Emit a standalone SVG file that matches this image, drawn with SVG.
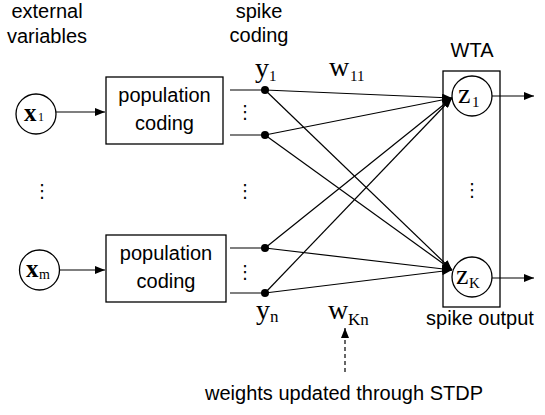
<svg xmlns="http://www.w3.org/2000/svg" width="545" height="415" viewBox="0 0 545 415">
<defs>
<style>
.s{font-family:"Liberation Sans",Arial,sans-serif;font-size:20px;fill:#000}
.m{font-family:"Liberation Serif","Times New Roman",serif;font-size:28px;fill:#000}
.sub{font-family:"Liberation Serif","Times New Roman",serif;font-size:15px;fill:#000}
.d{font-family:"DejaVu Sans",sans-serif;font-size:18px;fill:#000;text-anchor:middle}
.ln{stroke:#000;stroke-width:1.2;fill:none}
.bx{stroke:#000;stroke-width:1.3;fill:#fff}
</style>
<marker id="ah" viewBox="0 0 10 8" refX="10" refY="4" markerWidth="10" markerHeight="8" markerUnits="userSpaceOnUse" orient="auto">
<path d="M0,0 L10,4 L0,8 z" fill="#000"/>
</marker>
</defs>
<rect width="545" height="415" fill="#fff"/>

<g id="labels">
<text class="s" x="47" y="18" text-anchor="middle">external</text>
<text class="s" x="47" y="43" text-anchor="middle">variables</text>
<text class="s" x="259" y="18" text-anchor="middle">spike</text>
<text class="s" x="259" y="42" text-anchor="middle">coding</text>
<text class="s" x="472" y="57" text-anchor="middle">WTA</text>
<text class="s" x="480" y="325" text-anchor="middle">spike output</text>
<text class="s" x="344" y="400" text-anchor="middle">weights updated through STDP</text>
<text class="m" x="255" y="77">y</text><text class="sub" x="269" y="81">1</text>
<text class="m" x="256" y="319">y</text><text class="sub" x="270" y="322" style="font-size:17px">n</text>
<text class="m" x="329" y="76">w</text><text class="sub" x="350" y="81">11</text>
<text class="m" x="328" y="319">w</text><text class="sub" x="348" y="325" style="font-size:17px">Kn</text>
<text class="d" x="42" y="197">⋮</text>
<text class="d" x="245" y="197">⋮</text>
<text class="d" x="245" y="118">⋮</text>
<text class="d" x="245" y="278">⋮</text>
<text class="d" x="472" y="196">⋮</text>
</g>

<g id="connectors">
<line class="ln" x1="56" y1="112" x2="105" y2="112" marker-end="url(#ah)"/>
<line class="ln" x1="60" y1="270" x2="105" y2="270" marker-end="url(#ah)"/>
<line class="ln" x1="230" y1="90" x2="265" y2="90"/>
<line class="ln" x1="230" y1="135" x2="265" y2="135"/>
<line class="ln" x1="230" y1="248" x2="265" y2="248"/>
<line class="ln" x1="230" y1="293" x2="265" y2="293"/>
<line class="ln" x1="265" y1="90" x2="452" y2="98" marker-end="url(#ah)"/>
<line class="ln" x1="265" y1="135" x2="452" y2="98" marker-end="url(#ah)"/>
<line class="ln" x1="265" y1="248" x2="452" y2="98" marker-end="url(#ah)"/>
<line class="ln" x1="265" y1="293" x2="452" y2="98" marker-end="url(#ah)"/>
<line class="ln" x1="265" y1="90" x2="452" y2="270" marker-end="url(#ah)"/>
<line class="ln" x1="265" y1="135" x2="452" y2="270" marker-end="url(#ah)"/>
<line class="ln" x1="265" y1="248" x2="452" y2="270" marker-end="url(#ah)"/>
<line class="ln" x1="265" y1="293" x2="452" y2="270" marker-end="url(#ah)"/>
<line class="ln" x1="492" y1="96" x2="534" y2="96" marker-end="url(#ah)"/>
<line class="ln" x1="492" y1="278" x2="534" y2="278" marker-end="url(#ah)"/>
<line class="ln" x1="345" y1="372" x2="345" y2="328" stroke-dasharray="4,3" marker-end="url(#ah)"/>
</g>

<g id="dots">
<circle cx="265" cy="90" r="4"/>
<circle cx="265" cy="135" r="4"/>
<circle cx="265" cy="248" r="4"/>
<circle cx="265" cy="293" r="4"/>
</g>

<g id="x1">
<circle class="bx" cx="36" cy="114" r="20"/>
<text class="m" x="24" y="121" style="font-weight:bold;font-size:25px">x</text><text class="sub" x="38" y="121" style="font-size:12px">1</text>
</g>
<g id="xm">
<circle class="bx" cx="39.5" cy="270" r="20"/>
<text class="m" x="26" y="277" style="font-weight:bold;font-size:25px">x</text><text class="sub" x="39" y="279" style="font-size:14px">m</text>
</g>
<g id="pop1">
<rect class="bx" x="106" y="77" width="117" height="67"/>
<text class="s" x="164.5" y="102" text-anchor="middle">population</text>
<text class="s" x="164.5" y="130" text-anchor="middle">coding</text>
</g>
<g id="pop2">
<rect class="bx" x="106" y="235" width="120" height="67"/>
<text class="s" x="166" y="260" text-anchor="middle">population</text>
<text class="s" x="166" y="288" text-anchor="middle">coding</text>
</g>
<g id="wta">
<rect x="443" y="71" width="57" height="236" fill="none" stroke="#000" stroke-width="1.3"/>
</g>
<g id="z1">
<circle class="bx" cx="472" cy="96" r="20"/>
<text class="m" x="458" y="103">z</text><text class="sub" x="472" y="107">1</text>
</g>
<g id="zK">
<circle class="bx" cx="472" cy="277" r="20"/>
<text class="m" x="456" y="284">z</text><text class="sub" x="469" y="288">K</text>
</g>
</svg>
